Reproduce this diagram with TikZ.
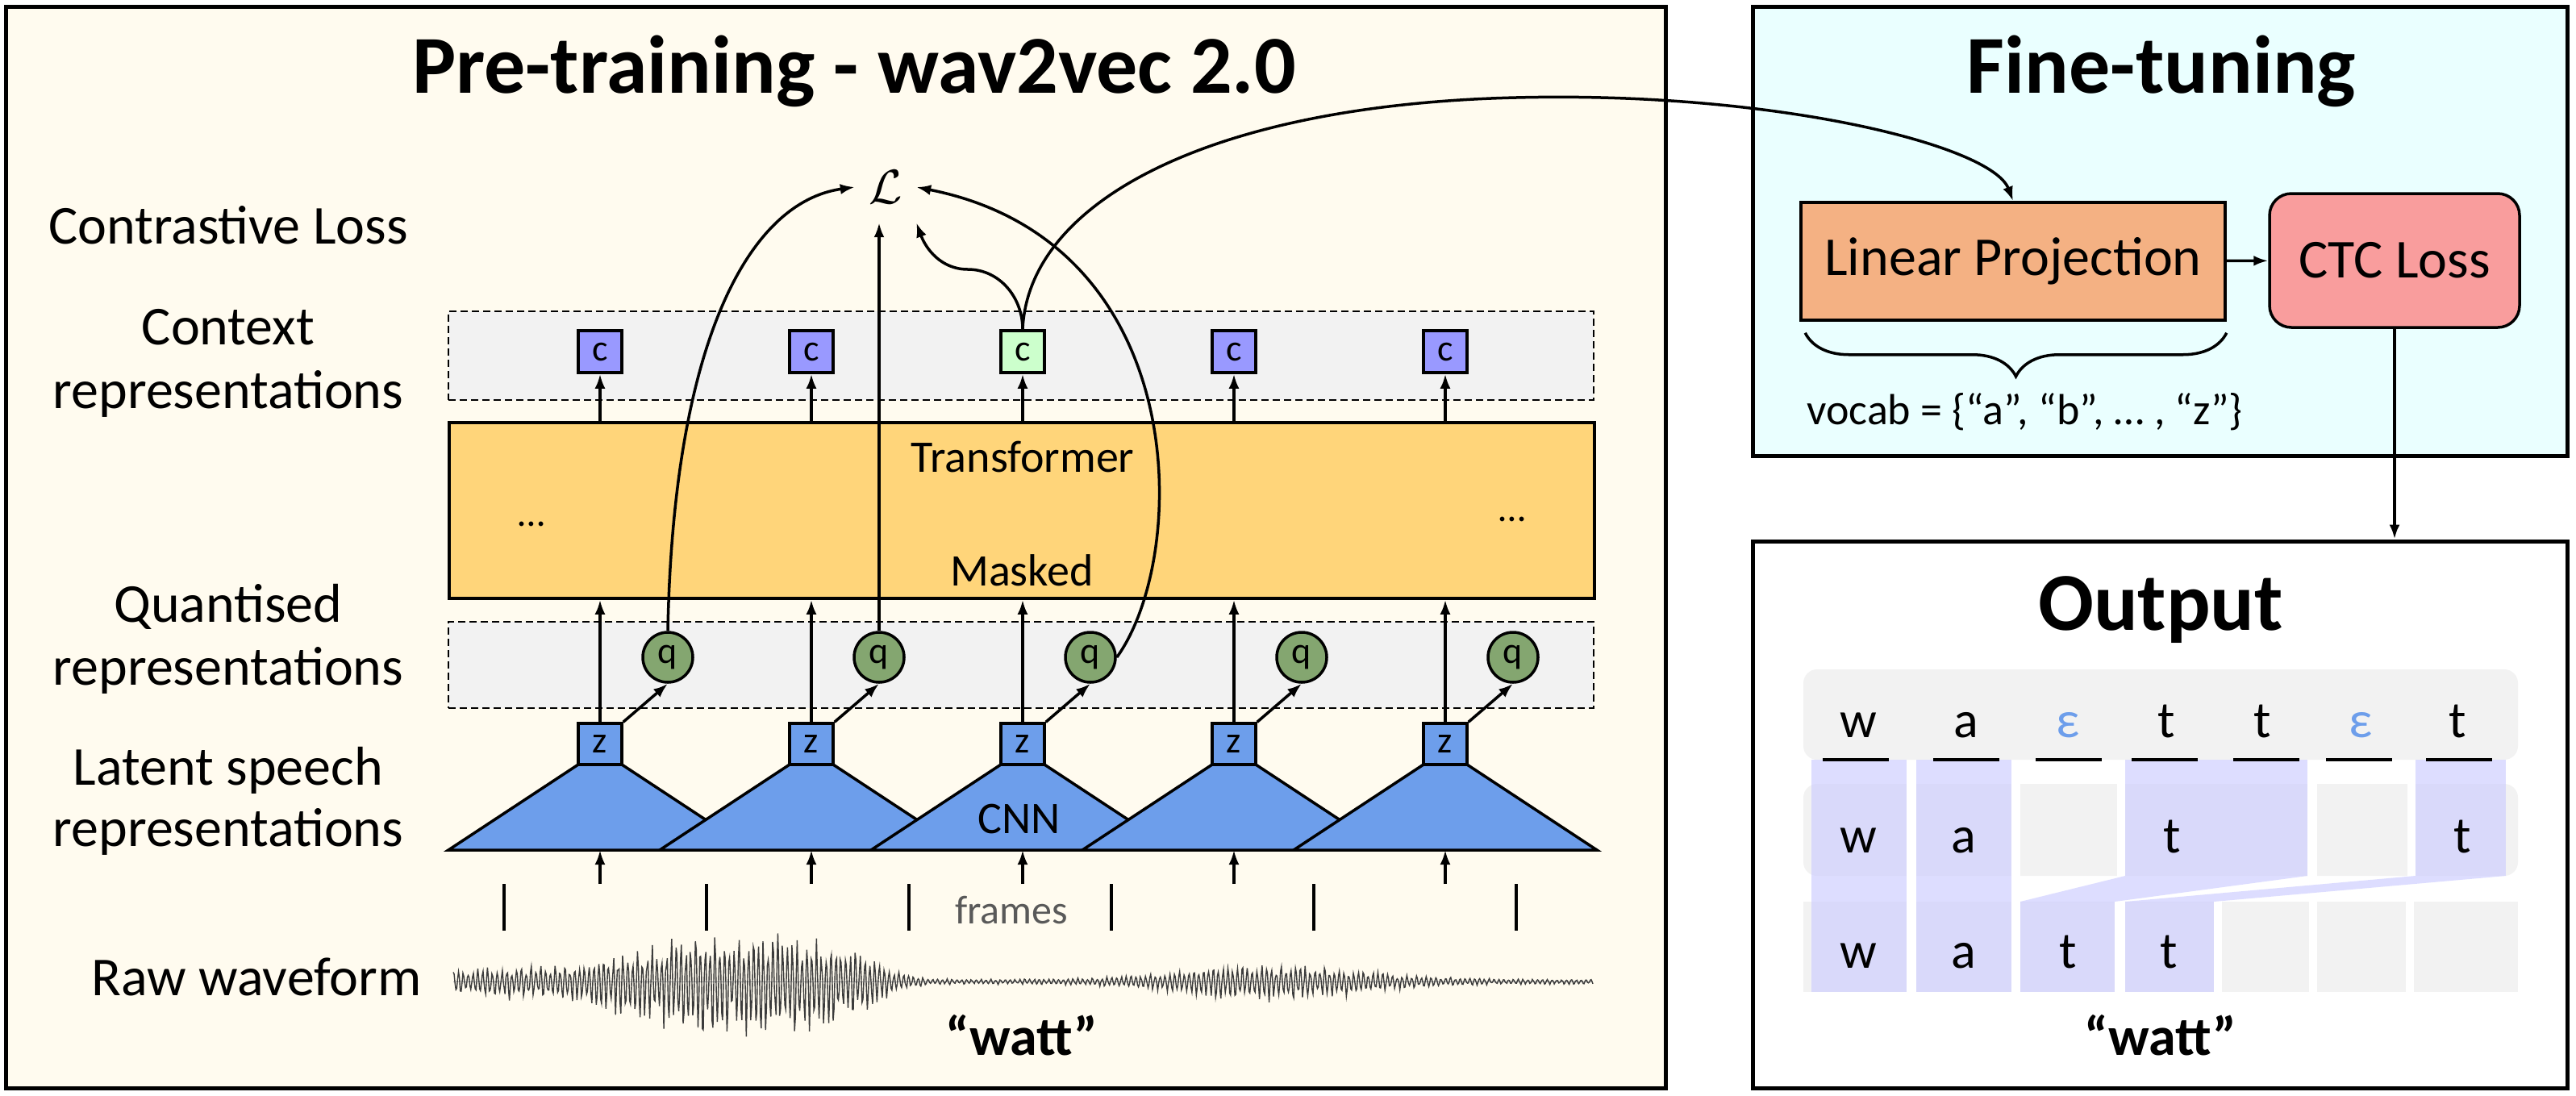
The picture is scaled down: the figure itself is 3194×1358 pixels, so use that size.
\documentclass[tikz,border=0pt]{standalone}
\usepackage{graphicx}
\usepackage{fontspec}
\setmainfont{Carlito}
\usetikzlibrary{positioning,arrows.meta,decorations.pathreplacing}
\definecolor{paper}{RGB}{255,251,239}
\definecolor{icebg}{RGB}{234,255,255}
\definecolor{rowgray}{RGB}{242,242,242}
\definecolor{transcol}{RGB}{255,213,122}
\definecolor{cblue}{RGB}{153,153,255}
\definecolor{cgreen}{RGB}{204,255,204}
\definecolor{zblue}{RGB}{109,158,235}
\definecolor{qgreen}{RGB}{132,166,112}
\definecolor{lporange}{RGB}{244,177,131}
\definecolor{ctcpink}{RGB}{249,157,157}
\definecolor{lav}{RGB}{204,204,255}
\definecolor{wavegray}{RGB}{60,60,60}
\definecolor{framegray}{RGB}{89,89,89}
\definecolor{epsblue}{RGB}{109,158,235}

\begin{document}
\begin{tikzpicture}
  [x=1pt, y=-1pt,
  every node/.style={inner sep=0pt},
  panel/.style={draw=black, line width=5pt},
  heading/.style={anchor=base, font=\fontsize{102}{110}\selectfont\bfseries},
  lbl/.style={anchor=base, font=\fontsize{68}{80}\selectfont},
  inbox/.style={anchor=base, font=\fontsize{56}{64}\selectfont},
  rowbox/.style={draw=black, fill=rowgray, line width=2.5pt, dash pattern=on 9pt off 5pt, minimum width=1420pt},
  cbox/.style={draw=black, line width=3.5pt, minimum width=54pt, minimum height=52pt, font=\fontsize{46}{46}\selectfont},
  zbox/.style={cbox, fill=zblue, minimum height=51pt},
  qnode/.style={circle, draw=black, line width=3.5pt, fill=qgreen, minimum size=62pt, font=\fontsize{46}{46}\selectfont},
  cnn/.style={fill=zblue, draw=black, line width=3.5pt},
  arr/.style={-{Latex[length=18pt,width=13pt]}, line width=3.5pt},
  tick/.style={line width=3.5pt},
  cell/.style={anchor=base, font=\fontsize{64}{70}\selectfont},
  lavfill/.style={fill=lav, fill opacity=0.65},
  declare function={
    sq(\u)=min(\u*\u,9);
    env(\t)=3+17*exp(-sq((\t-650)/90)*sq((\t-650)/90)/2)+58*exp(-sq((\t-920)/170)*sq((\t-920)/170))+19*exp(-sq((\t-1580)/150));
    osc(\t)=sin(mod(\t,6)*60);}]
  \useasboundingbox (0,0) rectangle (3194,1358);

  \node[panel, fill=paper, minimum width=2058pt, minimum height=1341pt] (pre) at (1036,678.5) {};
  \node[panel, fill=icebg, minimum width=1010pt, minimum height=557pt] (fine) at (2678,286.5) {};
  \node[panel, fill=white, minimum width=1010pt, minimum height=678pt] (out) at (2678,1010) {};
  \node[heading] (pretitle) at (1059,115) {Pre-training - wav2vec 2.0};
  \node[heading] (finetitle) at (2680,115) {Fine-tuning};
  \node[heading] (outtitle) at (2679,781) {Output};

  \node[lbl] (lblloss) at (283,302) {Contrastive Loss};
  \node[lbl] (lblctx) at (283,427) {Context};
  \node[lbl] (lblctxb) at (283,506) {representations};
  \node[lbl] (lblq) at (283,771) {Quantised};
  \node[lbl] (lblqb) at (283,849) {representations};
  \node[lbl] (lbllat) at (283,973) {Latent speech};
  \node[lbl] (lbllatb) at (283,1049) {representations};
  \node[lbl] (lblraw) at (318,1234) {Raw waveform};

  \node[rowbox, minimum height=110pt] (ctxrow) at (1266,441) {};
  \node[rowbox, minimum height=107pt] (qrow) at (1266,824.5) {};
  \node[draw=black, fill=transcol, line width=3.5pt, minimum width=1420pt, minimum height=218pt] (trans) at (1267,633) {};
  \node[inbox] (transtxt) at (1268,585) {Transformer};
  \node[inbox] (masktxt) at (1267,726) {Masked};
  \node[anchor=base, font=\fontsize{48}{48}\selectfont] (dotsl) at (659,652) {…};
  \node[anchor=base, font=\fontsize{48}{48}\selectfont] (dotsr) at (1875,646) {…};

  \foreach \i/\cc [evaluate=\i as \x using 744+262*(\i-1)] in {1/cblue,2/cblue,3/cgreen,4/cblue,5/cblue} {
    \filldraw[cnn] ({\x-27},948) -- ({\x+27},948) -- ({\x+188},1054) -- ({\x-188},1054) -- cycle;
    \node[zbox] (z\i) at (\x,922.5) {z};
    \node[cbox, fill=\cc] (c\i) at (\x,436) {c};
    \node[qnode] (q\i) at ({\x+84},815) {q};
    \coordinate (in\i) at (\x,1096);
  }
  \coordinate (cnnbase) at (0,1054);
  \node[inbox] (cnntxt) at (1264,1033) {CNN};

  \foreach \i in {1,...,5} {
    \draw[arr] (z\i.north) -- (z\i.north |- trans.south);
    \draw[arr] (c\i.south |- trans.north) -- (c\i.south);
    \draw[arr] (z\i.north east) -- (q\i.south);
    \draw[arr] (in\i) -- (in\i |- cnnbase);
  }
  \foreach \k in {0,...,5} \draw[tick] ({625+251*\k},1096) -- ++(0,58);
  \node[anchor=base, text=framegray, font=\fontsize{50}{50}\selectfont] (frames) at (1254,1145) {frames};

  \node[minimum width=76pt, minimum height=88pt] (loss) at (1098,232) {\scalebox{6}{$\mathcal{L}$}};
  \coordinate (bend) at (1200,334);
  \coordinate (peak) at (1880,121);
  \draw[arr] (q1.north) .. controls (835,420) and (930,250) .. (loss.west);
  \draw[arr] (q2.north) -- (q2.north |- loss.south);
  \draw[arr] (q3.east) .. controls (1475,690) and (1480,300) .. (loss.east);
  \draw[arr] (c3.north) to[out=90,in=0] (bend) to[out=180,in=-70] (loss.south east);

  \draw[gray!70, line width=1pt] (562,1217) -- (1975,1217);
  \pgfmathsetseed{11}
  \draw[wavegray, line width=1.4pt] plot[domain=562:1975, samples=1300] (\x,{1217+env(\x)*(0.35+0.65*rnd)*osc(\x)*(1+0.2*(osc(\x)>0))});
  \node[anchor=base, font=\fontsize{68}{70}\selectfont\bfseries] (wattin) at (1267,1308) {“watt”};

  \node[draw=black, fill=lporange, line width=3.5pt, minimum width=526pt, minimum height=146pt, font=\fontsize{68}{70}\selectfont] (lp) at (2496,324) {Linear Projection};
  \node[draw=black, fill=ctcpink, line width=3.5pt, rounded corners=27pt, minimum width=310pt, minimum height=166pt, font=\fontsize{68}{70}\selectfont] (ctc) at (2969,323) {CTC Loss};
  \draw[arr] (lp) -- (ctc);
  \draw[line width=3.5pt, decorate, decoration={brace, mirror, amplitude=54pt}] ([xshift=7pt,yshift=-14pt]lp.south west) -- ([yshift=-14pt]lp.south east);
  \node[anchor=base west, font=\fontsize{54}{60}\selectfont] (vocab) at (2240,526) {vocab = \{“a”, “b”, … , “z”\}};
  \draw[arr] (c3.north) .. controls (1275,250) and (1500,130) .. (peak) .. controls (2200,113) and (2470,180) .. (lp.north);
  \draw[arr] (ctc.south) -- (ctc.south |- out.north);

  \fill[rowgray, rounded corners=17pt] (2236,830) rectangle (3122,942);
  \fill[rowgray, rounded corners=17pt] (2236,972) rectangle (3122,1086);
  \foreach \a/\b in {2364/2376,2494/2505,2625/2635,2861/2873,2985/2995} \fill[white] (\a,968) rectangle (\b,1090);
  \foreach \a/\b in {2236/2364,2376/2494,2505/2622,2635/2745,2755/2863,2873/2983,2993/3122} \fill[rowgray] (\a,1118) rectangle (\b,1230);
  \foreach \a/\b/\e in {2246/2364/1230,2376/2494/1230,2635/2861/1086,2995/3107/1086} \fill[lavfill] (\a,942) rectangle (\b,\e);
  \fill[lavfill] (2505,1118) rectangle (2622,1230);
  \fill[lavfill] (2635,1118) rectangle (2745,1230);
  \fill[lavfill] (2635,1086) -- (2861,1086) -- (2622,1118) -- (2505,1118) -- cycle;
  \fill[lavfill] (2995,1086) -- (3107,1086) -- (2745,1118) -- (2635,1118) -- cycle;
  \foreach \xc in {2301,2438,2565,2684,2810,2925,3049} \draw[line width=4pt] ({\xc-41},942) -- ({\xc+41},942);

  \foreach \ch/\xc/\cl [count=\n] in {w/2304/black,a/2438/black,ε/2564/epsblue,t/2686/black,t/2805/black,ε/2927/epsblue,t/3047/black}
    \node[cell, text=\cl] (top\n) at (\xc,914) {\ch};
  \foreach \ch/\xc [count=\n] in {w/2304,a/2435,t/2693,t/3053}
    \node[cell] (mid\n) at (\xc,1057) {\ch};
  \foreach \ch/\xc [count=\n] in {w/2304,a/2435,t/2564,t/2689}
    \node[cell] (bot\n) at (\xc,1200) {\ch};
  \node[anchor=base, font=\fontsize{68}{70}\selectfont\bfseries] (wattout) at (2679,1308) {“watt”};
\end{tikzpicture}
\end{document}
